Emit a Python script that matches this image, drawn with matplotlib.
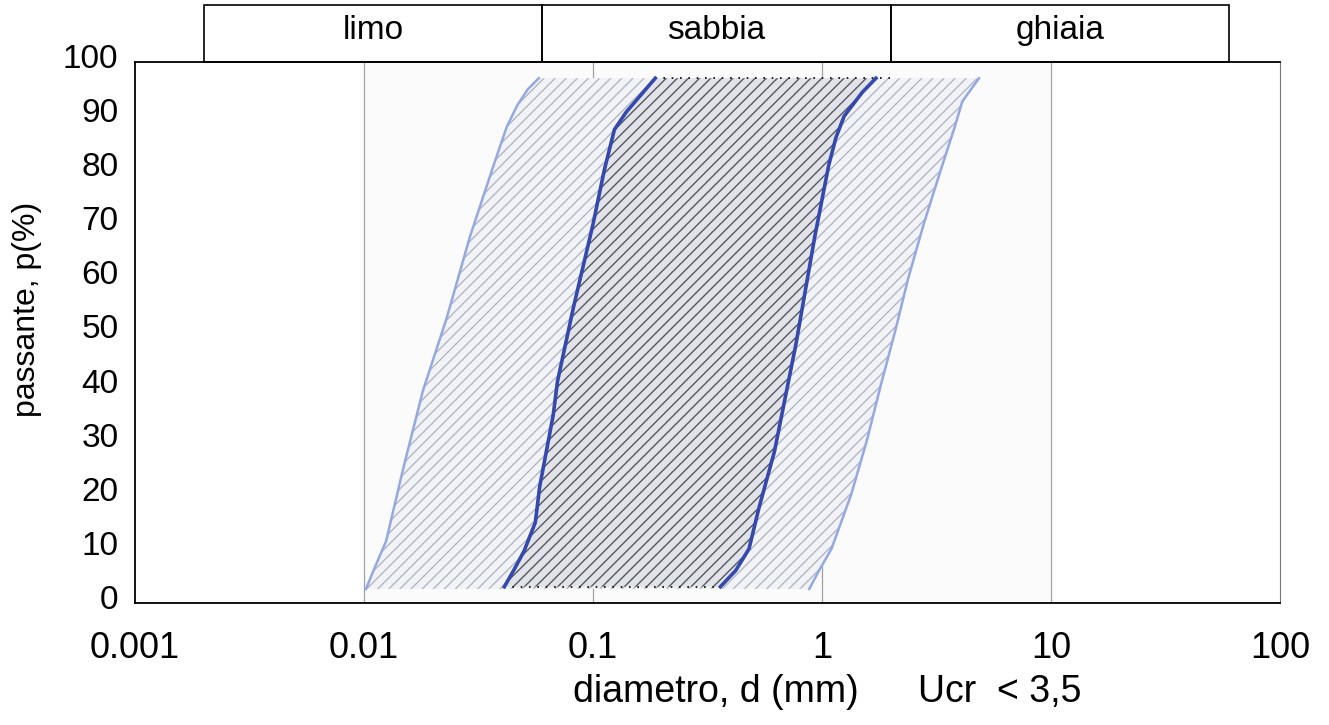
import numpy as np
import matplotlib
matplotlib.use("Agg")
import matplotlib.pyplot as plt
from matplotlib.patches import Rectangle
from matplotlib import transforms

plt.rcParams['font.family'] = ['Liberation Sans', 'DejaVu Sans']

# curve readings: passante (%) and diameter (mm)
lf_p = [2.6, 6, 11.5, 24.7, 39.3, 52.5, 67.7, 80.9, 88, 92, 95, 97]
lf_d = [0.0102, 0.0110, 0.0125, 0.0148, 0.0181, 0.0229, 0.029, 0.0368, 0.042, 0.0467, 0.052, 0.058]
ff_p = [3, 6, 9.6, 14.9, 21.5, 34.7, 41, 54.5, 70, 80, 87.5, 90.8, 92.7, 97]
ff_d = [0.041, 0.045, 0.050, 0.056, 0.0585, 0.067, 0.070, 0.082, 0.100, 0.112, 0.124, 0.140, 0.153, 0.187]
fg_p = [3, 6, 10, 17.5, 28, 47.9, 67.7, 80.9, 86, 90, 94.4, 97]
fg_d = [0.36, 0.42, 0.48, 0.53, 0.62, 0.77, 0.93, 1.07, 1.15, 1.25, 1.50, 1.72]
lg_p = [2.6, 6.3, 10, 20, 30, 40, 50, 60, 70, 80, 88, 92.7, 97]
lg_d = [0.88, 0.98, 1.10, 1.34, 1.57, 1.80, 2.08, 2.38, 2.78, 3.30, 3.80, 4.10, 4.85]

classi = ['limo', 'sabbia', 'ghiaia']
classi_lim = [0.002, 0.06, 2.0, 60.0]
griglia = [0.01, 0.1, 1, 10]
xticks = [0.001, 0.01, 0.1, 1, 10, 100]
xticklabels = ['0.001', '0.01', '0.1', '1', '10', '100']

fig = plt.figure(figsize=(13.29, 7.25), dpi=100)
ax = fig.add_axes([0.1016, 0.1683, 0.8615, 0.7462])
ax.set_xscale('log')
ax.set_xlim(0.001, 100)
ax.set_ylim(0, 100)

ax.axvspan(0.01, 10, color='#fbfbfb', zorder=0, lw=0)
for g in griglia:
    ax.axvline(g, color='#a0a0a0', lw=0.9, zorder=1)

# outer band
ax.fill(lf_d + lg_d[::-1], lf_p + lg_p[::-1], facecolor='#f2f3f6', edgecolor='#b3b7c4',
        hatch='///', lw=0, zorder=2)
# inner band
ax.fill(ff_d + fg_d[::-1], ff_p + fg_p[::-1], facecolor='#e2e3e8', edgecolor='#555862',
        hatch='///', lw=0, zorder=3)
ax.plot([ff_d[0], fg_d[0]], [ff_p[0], fg_p[0]], color='black', ls=(0, (1, 4)), lw=1.2, zorder=4)
ax.plot([ff_d[-1], 2.0], [ff_p[-1], fg_p[-1]], color='black', ls=(0, (1, 4)), lw=1.2, zorder=4)

ax.plot(lf_d, lf_p, color='#94a9e2', lw=1.8, zorder=5, solid_joinstyle='round')
ax.plot(lg_d, lg_p, color='#94a9e2', lw=1.8, zorder=5, solid_joinstyle='round')
ax.plot(ff_d, ff_p, color='#3448ae', lw=2.6, zorder=6, solid_joinstyle='round')
ax.plot(fg_d, fg_p, color='#3448ae', lw=2.6, zorder=6, solid_joinstyle='round')

# header boxes
tr = ax.get_xaxis_transform()
for i, nome in enumerate(classi):
    x0, x1 = classi_lim[i], classi_lim[i + 1]
    ax.add_patch(Rectangle((x0, 1.0), x1 - x0, 0.105, transform=tr, fill=False,
                           edgecolor='black', lw=1.2, clip_on=False))
    ax.text(np.sqrt(x0 * x1), 1.058, nome, transform=tr, ha='center', va='center',
            fontsize=24)

ax.set_xticks(xticks)
ax.set_xticklabels(xticklabels)
ax.minorticks_off()
ax.set_yticks(range(0, 101, 10))
ax.tick_params(length=0, labelsize=24)
ax.tick_params(axis='x', pad=20, labelsize=26)
ax.tick_params(axis='y', pad=12)
off = transforms.ScaledTranslation(0, 6 / 100, fig.dpi_scale_trans)
for lab in ax.get_yticklabels():
    lab.set_transform(lab.get_transform() + off)

for s in ['left', 'bottom', 'top']:
    ax.spines[s].set_color('black')
    ax.spines[s].set_linewidth(1.3)
ax.spines['right'].set_color('#777777')

ax.set_ylabel('passante, p(%)', fontsize=23)
ax.yaxis.set_label_coords(-0.081, 0.543)
fig.text(716 / 1329, 1 - 692 / 725, 'diametro, d (mm)', ha='center', va='center', fontsize=27)
fig.text(1000 / 1329, 1 - 692 / 725, 'Ucr  < 3,5', ha='center', va='center', fontsize=27)

fig.savefig('out.png', dpi=100)
